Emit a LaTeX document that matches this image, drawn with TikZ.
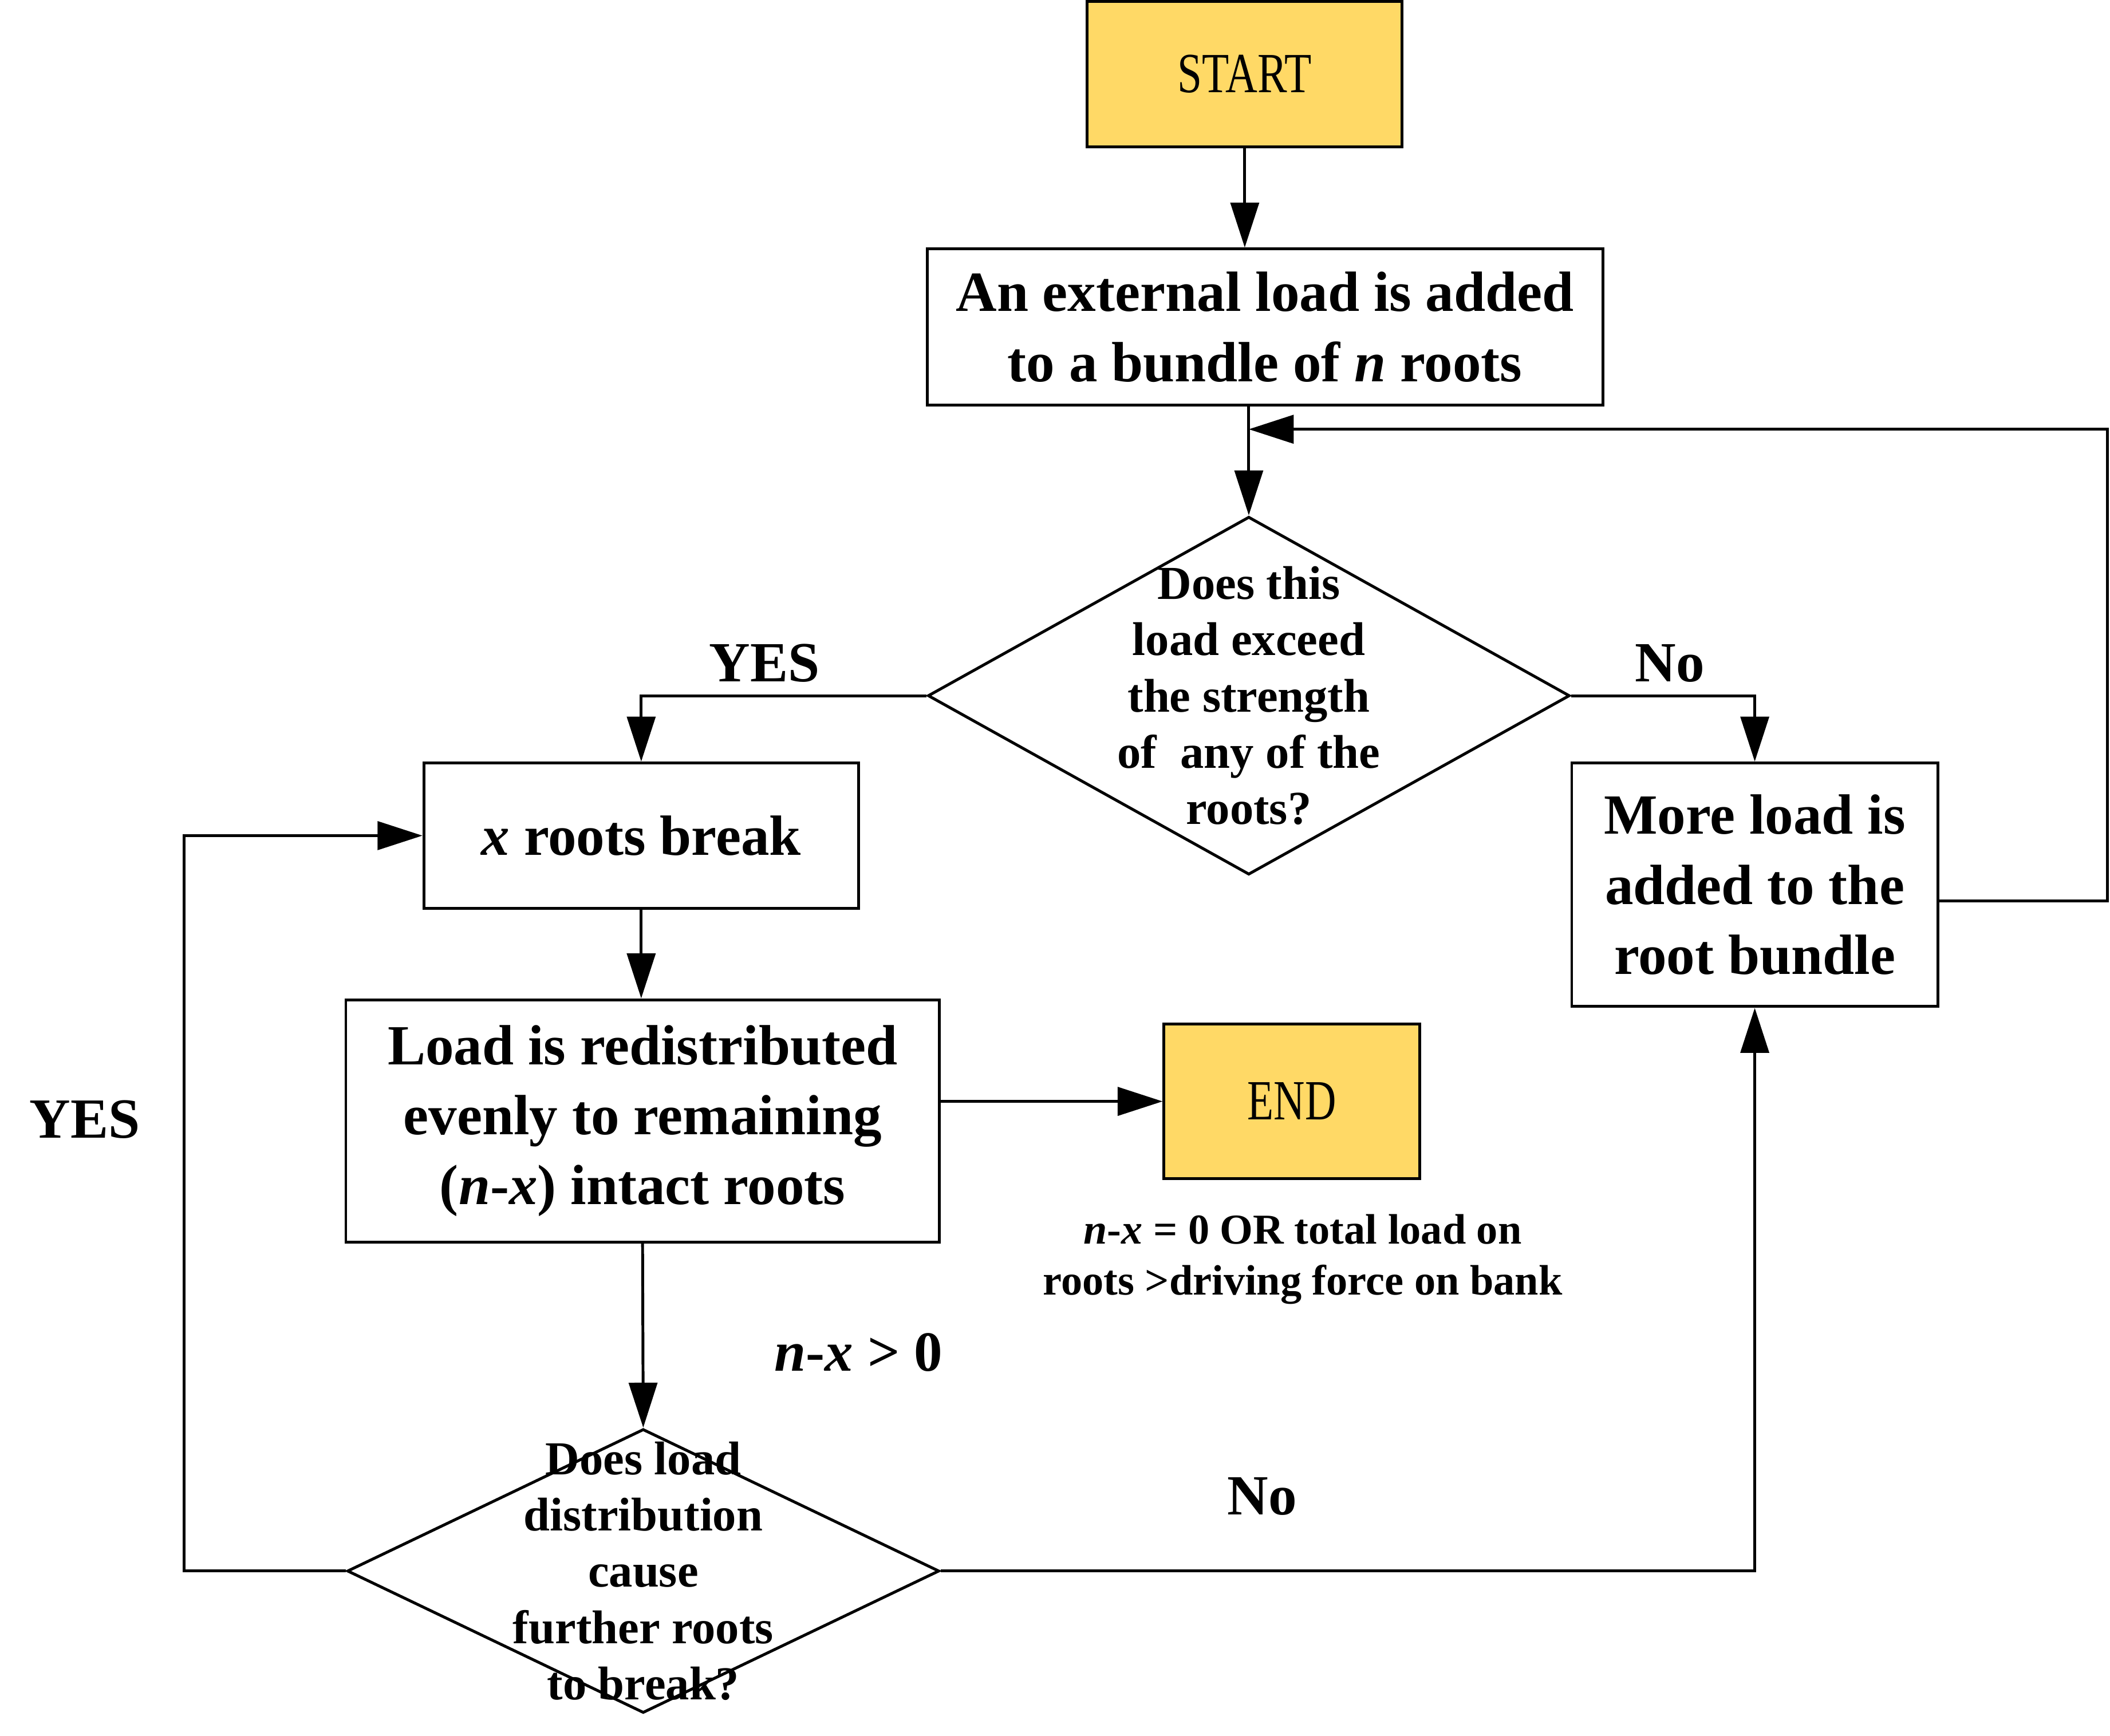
\documentclass[tikz,border=0pt]{standalone}
\usepackage{fontspec}
\setmainfont{Liberation Serif}
\usetikzlibrary{shapes.geometric,arrows.meta}
\definecolor{termyellow}{HTML}{FFD966}

\begin{document}
\begin{tikzpicture}
        [%%%%%%%%%%%%%%%%%%%%%%%%%%%%%%
        box/.style={rectangle,draw=black,line width=0.6pt,align=center,font=\fontsize{12}{14.8}\selectfont\bfseries},
        terminal/.style={rectangle,draw=black,line width=0.6pt,fill=termyellow,font=\fontsize{12}{14}\selectfont},
        decision/.style={diamond,draw=black,line width=0.6pt,inner sep=0pt},
        query/.style={align=center,font=\fontsize{10}{11.9}\selectfont\bfseries},
        tag/.style={font=\fontsize{12}{14}\selectfont\bfseries},
        note/.style={align=center,font=\fontsize{9}{10.8}\selectfont\bfseries},
        arrow/.style={-{Triangle[length=9.5pt,width=6pt]},line width=0.6pt},
        ]%%%%%%%%%%%%%%%%%%%%%%%%%%%%%%
        \useasboundingbox (0,0) rectangle (15.68,-12.90);
        % Boxes
        \node[terminal, minimum width=2.34cm, minimum height=1.08cm] (start) at (9.25,-0.55) {\scalebox{0.78}[1]{START}};
        \node[box, minimum width=5.02cm, minimum height=1.16cm] (ext) at (9.40,-2.43) {An external load is added\\to a bundle of \textit{n} roots};
        \node[decision, minimum width=4.77cm, minimum height=2.66cm] (d1) at (9.28,-5.17) {};
        \node[query] (d1text) at (d1) {Does this\\load exceed\\the strength\\of~ any of the\\roots?};
        \node[box, minimum width=3.23cm, minimum height=1.08cm] (xroots) at (4.765,-6.21) {\textit{x} roots break};
        \node[box, minimum width=4.41cm, minimum height=1.80cm] (load) at (4.775,-8.33) {Load is redistributed\\evenly to remaining\\(\textit{n}-\textit{x}) intact roots};
        \node[terminal, minimum width=1.90cm, minimum height=1.15cm] (end) at (9.60,-8.185) {\scalebox{0.76}[1]{END}};
        \node[box, minimum width=2.72cm, minimum height=1.81cm] (more) at (13.04,-6.575) {More load is\\added to the\\root bundle};
        \node[decision, minimum width=4.40cm, minimum height=2.11cm] (d2) at (4.78,-11.675) {};
        \node[query] (d2text) at (d2) {Does load\\distribution\\cause\\further roots\\to break?};
        % Loop corners
        \coordinate (rightrail) at (15.66,-3.19);
        \coordinate (leftrail) at (1.37,-11.675);
        % Lines
        \draw[arrow] (start.south) -- (start.south |- ext.north);
        \draw[arrow] (d1.north |- ext.south) -- (d1.north);
        \draw[arrow] (d1.west) -| (xroots.north);
        \draw[arrow] (d1.east) -| (more.north);
        \draw[arrow] (xroots.south) -- (xroots.south |- load.north);
        \draw[arrow] (end.west -| load.east) -- (end.west);
        \draw[arrow] (load.south) -- (d2.north);
        \draw[arrow] (d2.west) -- (leftrail) |- (xroots.west);
        \draw[arrow] (d2.east) -| (more.south);
        \draw[arrow] ([yshift=-1.2mm]more.east) -| (rightrail) -- (d1.north |- rightrail);
        % Text
        \node[tag] (yes1) at (5.68,-4.93) {YES};
        \node[tag] (no1) at (12.41,-4.93) {No};
        \node[tag] (yes2) at (0.63,-8.32) {YES};
        \node[tag] (no2) at (9.38,-11.12) {No};
        \node[tag] (nx) at (6.38,-10.05) {\textit{n}-\textit{x} > 0};
        \node[note] (endnote) at (9.68,-9.36) {\textit{n}-\textit{x} = 0 OR total load on\\roots >driving force on bank};
\end{tikzpicture}
\end{document}
